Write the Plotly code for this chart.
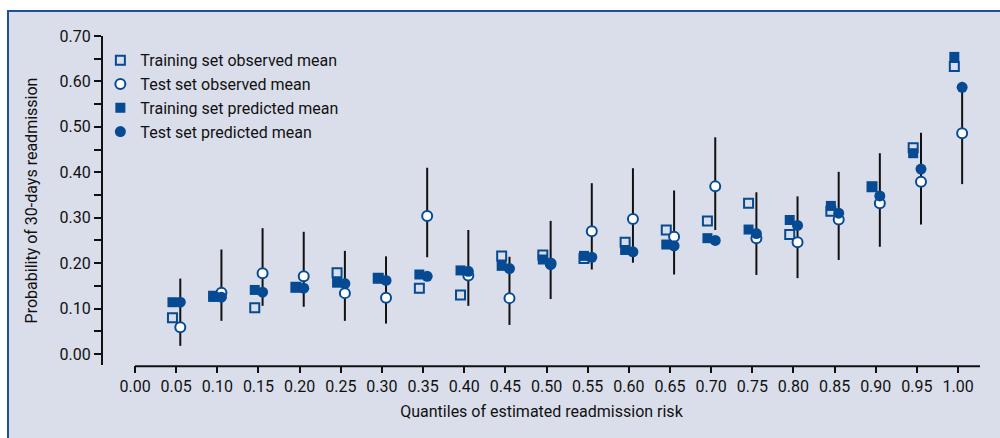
import plotly.graph_objects as go

# ---- data ----
quantiles = [0.05, 0.10, 0.15, 0.20, 0.25, 0.30, 0.35, 0.40, 0.45, 0.50,
             0.55, 0.60, 0.65, 0.70, 0.75, 0.80, 0.85, 0.90, 0.95, 1.00]
train_observed = [0.080, 0.127, 0.102, 0.147, 0.179, 0.167, 0.145, 0.130, 0.216, 0.218,
                  0.210, 0.246, 0.273, 0.293, 0.332, 0.263, 0.314, 0.368, 0.454, 0.633]
test_observed = [0.059, 0.135, 0.178, 0.171, 0.134, 0.124, 0.304, 0.173, 0.123, 0.199,
                 0.270, 0.297, 0.258, 0.369, 0.255, 0.246, 0.296, 0.332, 0.379, 0.486]
train_predicted = [0.114, 0.126, 0.141, 0.147, 0.157, 0.167, 0.175, 0.184, 0.194, 0.208,
                   0.216, 0.229, 0.241, 0.255, 0.274, 0.295, 0.326, 0.368, 0.442, 0.654]
test_predicted = [0.114, 0.125, 0.136, 0.145, 0.155, 0.162, 0.171, 0.182, 0.188, 0.197,
                  0.213, 0.225, 0.238, 0.250, 0.265, 0.283, 0.310, 0.348, 0.407, 0.587]
test_ci_low = [0.018, 0.073, 0.106, 0.104, 0.073, 0.067, 0.213, 0.106, 0.064, 0.121,
               0.186, 0.201, 0.175, 0.273, 0.174, 0.167, 0.207, 0.236, 0.285, 0.374]
test_ci_high = [0.166, 0.230, 0.277, 0.269, 0.227, 0.215, 0.410, 0.273, 0.214, 0.293,
                0.376, 0.409, 0.360, 0.477, 0.356, 0.347, 0.401, 0.442, 0.487, 0.599]
x_tick_values = [i * 0.05 for i in range(21)]
y_tick_values = [0.0, 0.1, 0.2, 0.3, 0.4, 0.5, 0.6, 0.7]

# ---- styling ----
FONT = "Roboto, Liberation Sans, sans-serif"
FS = 16
BLUE = "#064a93"
PANEL = "#dadeeb"
BORDER = "#1f4f96"
INK = "#111111"
SQ_OFF = -0.0045
CI_OFF = 0.005

x_sq = [q + SQ_OFF for q in quantiles]
x_ci = [q + CI_OFF for q in quantiles]
err_plus = [h - m for h, m in zip(test_ci_high, test_observed)]
err_minus = [m - l for m, l in zip(test_observed, test_ci_low)]

fig = go.Figure()
fig.add_trace(go.Scatter(
    x=x_sq, y=train_observed, mode="markers", name="Training set observed mean",
    marker=dict(symbol="square-open", size=9, color=BLUE, line=dict(width=2, color=BLUE))))
fig.add_trace(go.Scatter(
    x=x_ci, y=test_observed, mode="markers", name="Test set observed mean",
    marker=dict(symbol="circle", size=10, color="white", line=dict(width=2, color=BLUE)),
    error_y=dict(type="data", array=err_plus, arrayminus=err_minus, symmetric=False,
                 color=INK, thickness=2, width=0)))
fig.add_trace(go.Scatter(
    x=x_sq, y=train_predicted, mode="markers", name="Training set predicted mean",
    marker=dict(symbol="square", size=10, color=BLUE, line=dict(width=0))))
fig.add_trace(go.Scatter(
    x=x_ci, y=test_predicted, mode="markers", name="Test set predicted mean",
    marker=dict(symbol="circle", size=11, color=BLUE, line=dict(width=0))))

XR = [-0.0389, 1.0267]
YR = [-0.0242, 0.70]

fig.update_layout(
    width=1000, height=438,
    margin=dict(l=103, r=20, t=36, b=73),
    paper_bgcolor="white",
    plot_bgcolor="white",
    font=dict(family=FONT, size=FS, color=INK),
    showlegend=True,
    legend=dict(x=-0.003, y=0.978, xanchor="left", yanchor="top",
                bgcolor="rgba(0,0,0,0)", font=dict(family=FONT, size=FS, color=INK),
                tracegroupgap=0),
    xaxis=dict(range=XR, tickmode="array", tickvals=x_tick_values,
               ticktext=[f"{v:.2f}" for v in x_tick_values],
               tickfont=dict(family=FONT, size=FS, color=INK),
               ticks="outside", ticklen=7, tickwidth=2, tickcolor=INK,
               showline=False, showgrid=False, zeroline=False,
               title=dict(text="Quantiles of estimated readmission risk", standoff=10,
                          font=dict(family=FONT, size=FS, color=INK))),
    yaxis=dict(range=YR, tickmode="array", tickvals=y_tick_values,
               ticktext=[f"{v:.2f}" for v in y_tick_values],
               tickfont=dict(family=FONT, size=FS, color=INK),
               ticks="outside", ticklen=7, tickwidth=2, tickcolor=INK,
               minor=dict(dtick=0.05, tick0=0, ticks="outside", ticklen=7,
                          tickwidth=2, tickcolor=INK, showgrid=False),
               showline=True, linewidth=2, linecolor=INK,
               showgrid=False, zeroline=False,
               title=dict(text="Probability of 30-days readmission", standoff=18,
                          font=dict(family=FONT, size=FS, color=INK))),
    shapes=[
        # panel background with border
        dict(type="rect", xref="paper", yref="paper", layer="below",
             x0=(8 - 103) / 877, x1=1.2, y0=-0.4, y1=(365 - 11) / 329,
             fillcolor=PANEL, line=dict(color=BORDER, width=2)),
        # x-axis line starting at 0.00
        dict(type="line", xref="x", yref="paper", x0=0, x1=XR[1], y0=-0.004, y1=-0.004,
             line=dict(color=INK, width=2)),
    ],
)

fig.write_html("out.html")
